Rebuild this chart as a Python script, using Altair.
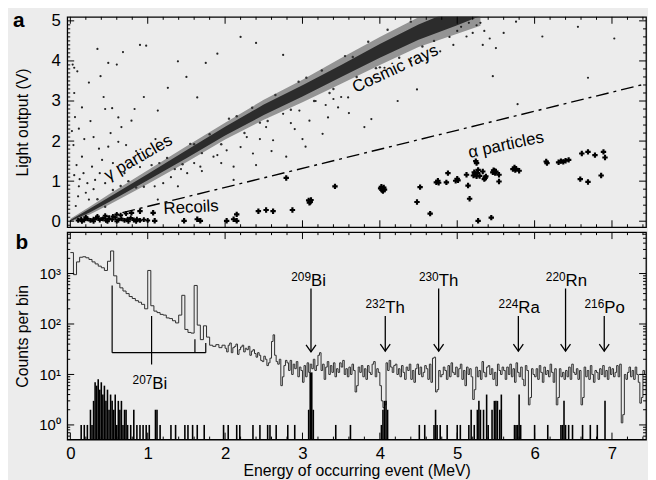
import altair as alt
import pandas as pd

W, HA, HB = 586, 213, 210
X_DOMAIN = [-0.04, 7.44]
YA_DOMAIN = [-0.15, 5.1]
YB_DOMAIN = [0.513, 6600]
FONT = "Liberation Sans"

# ---------------- panel a : light output vs energy ----------------
band_x        = [0.0, 0.25, 0.5, 1.0, 1.5, 2.0, 2.5, 3.0, 3.5, 4.0, 4.5, 5.0, 5.3]
band_core_lo  = [0.0, 0.22, 0.48, 1.02, 1.57, 2.14, 2.65, 3.11, 3.60, 4.08, 4.53, 4.89, 5.12]
band_core_hi  = [0.03, 0.31, 0.60, 1.18, 1.77, 2.36, 2.91, 3.39, 3.90, 4.42, 4.91, 5.31, 5.58]
band_outer_lo = [-0.02, 0.17, 0.41, 0.93, 1.47, 2.04, 2.53, 2.97, 3.43, 3.90, 4.35, 4.68, 4.88]
band_outer_hi = [0.06, 0.36, 0.67, 1.27, 1.87, 2.46, 3.03, 3.53, 4.07, 4.60, 5.09, 5.52, 5.82]

gamma_above = [(0.90, 4.40), (0.98, 4.38), (0.68, 4.22), (1.90, 4.18), (2.75, 4.15), (1.39, 3.99),
               (0.49, 3.95), (0.60, 3.91), (0.03, 3.91), (0.05, 3.83), (0.09, 3.74), (0.39, 3.62),
               (0.24, 3.46), (1.26, 3.33), (1.64, 3.09), (0.45, 2.80), (0.54, 2.82), (0.83, 2.80),
               (0.15, 2.84), (0.62, 2.59), (0.66, 2.35), (0.79, 2.51), (1.13, 2.76), (0.11, 2.31),
               (0.37, 1.81), (0.49, 1.86), (0.62, 1.98), (0.15, 1.61), (0.28, 1.36), (0.41, 1.53),
               (0.11, 0.87), (0.20, 0.71), (0.24, 0.54), (0.17, 1.20), (0.32, 1.03), (0.07, 0.38),
               (0.05, 3.20), (0.06, 2.60), (0.04, 1.90), (0.08, 1.40), (0.12, 1.05), (0.30, 2.10),
               (0.52, 2.20), (0.72, 1.90), (0.95, 3.10), (1.50, 3.60), (2.20, 4.60), (0.35, 4.30),
               (1.00, 1.60), (0.90, 1.35), (0.70, 1.20), (0.45, 0.95), (0.22, 0.95), (0.30, 0.80),
               (0.38, 1.20), (0.55, 1.45), (0.18, 2.05), (0.26, 2.50), (0.85, 1.75), (1.10, 2.05),
               (0.05, 1.15), (0.10, 0.62), (0.02, 2.25), (0.43, 3.10), (1.75, 3.95), (2.40, 4.45)]
gamma_below = [(1.51, 1.20), (1.68, 1.36), (1.85, 1.61), (2.11, 1.36), (2.02, 1.77), (2.28, 2.10),
               (2.36, 1.69), (2.53, 2.35), (2.62, 2.02), (2.75, 2.68), (2.79, 1.61), (2.96, 2.76),
               (3.09, 2.51), (3.17, 3.00), (2.11, 1.03), (1.39, 0.87), (1.13, 0.54), (1.43, 1.30),
               (1.60, 1.45), (1.09, 0.87), (3.04, 1.86), (3.26, 2.18), (2.40, 1.40), (2.90, 2.30),
               (3.30, 2.90), (3.50, 3.10), (3.60, 2.70), (2.20, 1.85), (1.95, 1.45), (2.60, 1.75),
               (3.00, 2.05), (4.48, 3.29), (3.89, 3.50), (4.06, 3.83), (3.89, 2.55), (3.46, 2.84),
               (3.59, 3.09), (3.33, 2.59), (3.80, 2.35), (6.69, 3.58), (5.46, 3.62), (5.78, 2.92),
               (4.23, 3.00), (4.78, 4.24), (4.40, 3.99), (4.61, 4.03), (4.95, 4.40), (1.20, 0.95),
               (1.70, 1.25), (2.45, 2.05), (2.85, 2.45), (3.40, 3.05), (1.30, 1.10), (1.90, 1.65)]
gamma_cosmic = [(5.76, 4.98), (6.10, 4.61), (6.56, 4.85), (7.03, 4.56), (5.42, 4.56), (5.33, 4.40),
                (5.50, 4.32), (5.12, 4.61), (5.25, 4.89), (5.00, 4.75), (5.15, 4.95), (5.60, 4.70),
                (5.05, 4.85), (5.20, 4.70), (5.30, 4.95), (4.90, 4.60), (5.35, 4.75)]
band_fuzz = [(0.55, 0.78), (0.75, 1.00), (0.95, 0.86), (1.15, 1.45), (1.25, 1.58), (1.35, 1.30),
             (1.55, 1.93), (1.70, 1.70), (1.80, 2.17), (1.95, 1.92), (2.05, 2.56), (2.25, 2.20),
             (2.35, 2.83), (2.55, 2.50), (2.65, 3.15), (2.85, 2.78), (2.95, 3.48), (3.15, 3.00),
             (3.25, 3.76), (3.40, 3.30), (3.55, 4.12), (3.70, 3.60), (3.85, 4.48), (3.95, 3.82),
             (4.10, 4.78), (4.25, 4.08), (4.40, 4.98), (4.55, 4.36), (4.70, 4.50), (0.35, 0.55),
             (0.45, 0.36), (1.05, 1.40), (1.45, 1.42), (2.15, 2.62), (2.45, 2.46), (3.05, 3.58),
             (3.35, 3.20), (3.65, 4.10), (4.00, 3.84), (0.65, 0.88), (0.85, 0.84), (1.60, 1.92)]

alpha_pts = [(3.42, 0.87), (4.01, 0.82), (4.03, 0.78), (4.05, 0.84), (4.04, 0.75), (4.02, 0.86),
             (4.06, 0.79), (4.52, 0.85), (4.48, 0.48), (4.65, 0.19), (4.73, 0.97), (4.75, 1.01),
             (4.76, 0.96), (4.86, 0.97), (4.88, 1.20), (4.98, 1.01), (5.00, 1.06), (5.01, 1.02),
             (5.12, 1.16), (5.14, 0.89), (5.16, 0.56), (5.25, 1.45), (5.24, 1.50), (5.27, 1.28),
             (5.21, 1.14), (5.23, 1.18), (5.25, 1.12), (5.22, 1.22), (5.26, 1.20), (5.29, 1.13),
             (5.37, 1.12), (5.36, 1.08), (5.33, 1.24), (5.35, 1.05), (5.46, 1.22), (5.48, 1.26),
             (5.50, 1.24), (5.49, 1.20), (5.47, 1.27), (5.54, 1.16), (5.54, 0.99), (5.72, 1.30),
             (5.74, 1.34), (5.76, 1.31), (5.75, 1.28), (5.80, 1.26), (6.16, 1.45), (6.15, 1.49),
             (6.31, 1.47), (6.34, 1.50), (6.37, 1.48), (6.40, 1.51), (6.44, 1.53), (6.61, 1.69),
             (6.69, 1.73), (6.78, 1.65), (6.89, 1.73), (6.91, 1.59), (6.86, 1.14), (6.59, 1.05),
             (6.69, 0.98), (5.27, 0.01), (5.44, 0.09), (3.08, 0.52), (3.10, 0.48), (3.11, 0.53),
             (3.09, 0.46), (2.79, 1.08), (2.87, 0.28), (2.62, 0.25), (2.53, 0.28), (2.43, 0.25),
             (2.15, 0.17), (2.11, 0.05), (2.02, 0.01), (2.15, 0.01), (1.68, 0.01), (1.64, 0.05),
             (1.47, 0.01), (1.09, 0.01), (1.07, 0.21), (0.90, 0.25), (0.79, 0.21)]

recoil_pts = [(0.10, 0.02), (0.14, 0.05), (0.18, 0.03), (0.22, 0.06), (0.26, 0.02), (0.30, 0.05),
              (0.34, 0.08), (0.38, 0.03), (0.42, 0.06), (0.46, 0.02), (0.50, 0.07), (0.54, 0.04),
              (0.58, 0.09), (0.62, 0.03), (0.66, 0.06), (0.70, 0.02), (0.74, 0.05), (0.78, 0.08),
              (0.82, 0.03), (0.86, 0.05), (0.90, 0.02), (0.95, 0.04), (1.00, 0.02), (0.20, 0.10),
              (0.35, 0.12), (0.45, 0.14), (0.55, 0.12), (0.65, 0.15), (0.48, 0.00), (0.60, 0.00),
              (0.30, 0.00), (0.75, 0.00), (0.15, 0.00), (0.85, 0.00), (0.72, 0.19), (0.60, 0.17)]

cut_x = [0.35, 7.44]
cut_y = [0.06, 3.43]

ann_a = [("\u03b3 particles", 0.88, 1.58, 330), ("Cosmic rays", 4.20, 3.80, 335),
         ("Recoils", 1.56, 0.34, 357), ("\u03b1 particles", 5.63, 1.90, 348)]

# ---------------- panel b : spectrum ----------------
# 0.00 - 2.00 MeV in 0.04 MeV bins
spec_low = [2600, 950, 1700, 2100, 2150, 2050, 1900, 1700, 1550, 1400,
            1300, 1150, 1750, 2800, 900, 640, 520, 450, 400, 350,
            320, 290, 270, 245, 200, 1150, 230, 180, 168, 155,
            150, 132, 128, 116, 105, 150, 370, 78, 68, 66,
            580, 95, 49, 92, 55, 38, 36, 39, 34, 38]
# 2.00 - 7.44 MeV in 0.02 MeV bins
spec_high = [33, 28, 38, 42, 27, 34, 36, 40, 25, 31, 35, 38, 28, 33, 31, 36, 24, 29, 31, 26,
             22, 27, 24, 19, 18, 23, 20, 15, 17, 21, 45, 61, 24, 18, 16, 20, 6, 9, 15, 19,
             17, 12, 19, 10, 16, 13, 18, 9, 14, 12, 7, 15, 9, 17, 11, 16, 13, 20, 12, 15,
             24, 27, 12, 16, 8, 14, 18, 10, 15, 11, 17, 9, 13, 11, 17, 14, 19, 10, 13, 9,
             14, 10, 16, 12, 4.5, 6, 14, 11, 15, 9, 13, 8, 15, 11, 10, 16, 18, 9, 13, 11,
             6, 3, 2.2, 2.5, 17, 12, 19, 14, 11, 15, 16, 10, 13, 9, 15, 11, 8, 14, 12, 16,
             8, 12, 7, 13, 16, 10, 14, 9, 11, 15, 13, 8, 16, 7, 21, 22, 4.5, 5, 12, 9,
             10, 14, 12, 8, 15, 9, 17, 11, 10, 14, 9, 13, 16, 8, 12, 6, 14, 10, 13, 9,
             3.2, 5, 14, 9, 12, 8, 18, 11, 9, 14, 15, 10, 13, 8, 11, 6, 16, 12, 10, 14,
             12, 8, 14, 10, 16, 9, 13, 7, 17, 11, 9, 14, 8, 6, 15, 12, 2.5, 3.5, 13, 10,
             9, 13, 8, 15, 11, 7, 14, 10, 12, 9, 16, 11, 7, 13, 2.5, 3.5, 13, 9, 11, 8,
             12, 9, 14, 8, 16, 11, 10, 13, 8, 12, 2.5, 3.5, 14, 9, 12, 8, 15, 10, 7, 12,
             11, 8, 13, 10, 15, 9, 12, 8, 14, 10, 13, 9, 11, 15, 9, 16, 1.1, 1.6, 10, 8,
             11, 14, 9, 12, 8, 14, 10, 7, 2.7, 3.5, 12, 10]

alpha_low_e = [0.14, 0.18, 0.22, 0.26, 0.28, 0.30, 0.32, 0.34, 0.36, 0.38,
               0.40, 0.42, 0.44, 0.46, 0.48, 0.50, 0.52, 0.54, 0.56, 0.58,
               0.60, 0.62, 0.64, 0.66, 0.68, 0.70, 0.72, 0.74, 0.78, 0.82,
               0.86, 0.90, 0.94, 0.98, 1.02, 1.10, 1.12, 1.16]
alpha_low_n = [1, 1, 1, 2, 1, 3, 7, 6, 8, 5,
               7, 4, 6, 3, 5, 2, 4, 3, 2, 4,
               1, 3, 2, 3, 1, 2, 2, 1, 1, 2,
               1, 1, 1, 1, 1, 2, 2, 1]
alpha_mid_e = [1.30, 1.36, 1.48, 1.52, 1.58, 1.64, 1.73, 1.98, 2.04, 2.15, 2.19, 2.36, 2.45,
               2.55, 2.58, 2.66, 2.81, 2.90, 3.08, 3.10, 3.12, 3.14, 3.43, 3.62]
alpha_mid_n = [1, 1, 1, 1, 1, 1, 1, 1, 1, 1, 1, 1, 1,
               1, 1, 1, 1, 1, 2, 11, 11, 2, 1, 1]
alpha_high_e = [4.02, 4.04, 4.06, 4.08, 4.10, 4.51, 4.58, 4.70, 4.72, 4.74,
                4.78, 4.87, 5.00, 5.04, 5.15, 5.18, 5.22, 5.26, 5.28, 5.30,
                5.34, 5.38, 5.40, 5.45, 5.48, 5.50, 5.52, 5.55, 5.57,
                5.74, 5.76, 5.78, 5.80, 5.82, 6.00, 6.17, 6.34, 6.36, 6.38,
                6.40, 6.44, 6.49, 6.62, 6.72, 6.81, 6.91]
alpha_high_n = [1, 2, 3, 3, 2, 1, 1, 1, 2, 1,
                1, 1, 1, 1, 1, 2, 1, 2, 3, 2,
                2, 4, 1, 2, 3, 3, 3, 2, 4,
                1, 1, 1, 4, 1, 1, 1, 1, 1, 3,
                1, 1, 1, 1, 1, 1, 3]

nuc_num = ["209", "232", "230", "224", "220", "216"]
nuc_el = ["Bi", "Th", "Th", "Ra", "Rn", "Po"]
nuc_x = [3.11, 4.07, 4.76, 5.79, 6.40, 6.90]
nuc_label_y = [565, 164, 575, 164, 575, 164]
arrow_top = [505, 144, 505, 144, 505, 144]
arrow_tip = [28, 29, 29, 29, 29, 29]

bi207_x = [0.54, 1.05, 1.61, 1.75]
bi207_top = [580, 144, 50, 42]
bi207_bot = [27, 15.7, 27, 27]
bi207_bar = (0.54, 1.75, 27)
bi207_label = ("207", "Bi", 1.06, 5.1)

# tick positions
x_major = [0, 1, 2, 3, 4, 5, 6, 7]
x_minor = [round(0.2 * i, 1) for i in range(0, 38) if i % 5 != 0]
ya_major = [0, 1, 2, 3, 4, 5]
ya_minor_l = [round(0.1 * i, 1) for i in range(-1, 51) if i % 10 != 0]
ya_minor_r = [round(0.2 * i, 1) for i in range(0, 26) if i % 5 != 0]
yb_major = [1, 10, 100, 1000]
yb_minor = [m * 10 ** k for k in range(-1, 4) for m in range(2, 10)
            if YB_DOMAIN[0] <= m * 10 ** k <= YB_DOMAIN[1]]

# ---------------- scales & axes ----------------
xs = alt.Scale(domain=X_DOMAIN, nice=False, zero=False)
yas = alt.Scale(domain=YA_DOMAIN, nice=False, zero=False)
ybs = alt.Scale(type="log", domain=YB_DOMAIN, nice=False)

ax_ya = alt.Axis(values=ya_major, ticks=False, domain=False, grid=False, labelFontSize=17,
                 labelPadding=7, labelColor="black", title="Light output (V)", titleFontSize=16,
                 titleFontWeight="normal", titleColor="black", titlePadding=21)
ax_xb = alt.Axis(values=x_major, ticks=False, domain=False, grid=False, labelFontSize=17,
                 labelPadding=6, labelFlush=False, labelColor="black",
                 title="Energy of occurring event (MeV)", titleFontSize=16,
                 titleFontWeight="normal", titleColor="black", titlePadding=1)
ax_yb = alt.Axis(values=yb_major, ticks=False, domain=False, grid=False, labelFontSize=15,
                 labelPadding=7, labelColor="black",
                 labelExpr="datum.value == 1 ? '10\u2070' : datum.value == 10 ? '10\u00b9' : datum.value == 100 ? '10\u00b2' : '10\u00b3'",
                 title="Counts per bin", titleFontSize=16, titleFontWeight="normal",
                 titleColor="black", titlePadding=9)


def XA(f):
    return alt.X(f, type="quantitative", scale=xs, axis=None)


def YA(f):
    return alt.Y(f, type="quantitative", scale=yas, axis=ax_ya)


def XB(f):
    return alt.X(f, type="quantitative", scale=xs, axis=ax_xb)


def YB(f):
    return alt.Y(f, type="quantitative", scale=ybs, axis=ax_yb)


def pts_df(pts):
    return pd.DataFrame({"x": [p[0] for p in pts], "y": [p[1] for p in pts]})


def yticks(vals, Yf, x0, x1):
    return alt.Chart(pd.DataFrame({"v": vals})).mark_rule(color="black", strokeWidth=1).encode(
        y=Yf("v"), x=alt.value(x0), x2=alt.value(x1))


def xticks(vals, Xf, y0, y1):
    return alt.Chart(pd.DataFrame({"v": vals})).mark_rule(color="black", strokeWidth=1).encode(
        x=Xf("v"), y=alt.value(y0), y2=alt.value(y1))


# ---------------- panel a layers ----------------
band_df = pd.DataFrame({"x": band_x, "olo": band_outer_lo, "ohi": band_outer_hi,
                        "clo": band_core_lo, "chi": band_core_hi})
outer = alt.Chart(band_df).mark_area(color="#3c3c3c", opacity=0.5, clip=True).encode(
    x=XA("x"), y=YA("olo"), y2=alt.Y2("ohi"))
core = alt.Chart(band_df).mark_area(color="#262626", opacity=0.95, clip=True).encode(
    x=XA("x"), y=YA("clo"), y2=alt.Y2("chi"))
gam = alt.Chart(pts_df(gamma_above + gamma_below + gamma_cosmic)).mark_circle(
    size=5, color="#222222", opacity=1, clip=True).encode(x=XA("x"), y=YA("y"))
fuzz = alt.Chart(pts_df(band_fuzz)).mark_circle(
    size=6, color="#333333", opacity=1, clip=True).encode(x=XA("x"), y=YA("y"))
cut = alt.Chart(pd.DataFrame({"x": cut_x, "y": cut_y})).mark_line(
    color="black", strokeWidth=1.4, strokeDash=[13, 5, 3, 5], clip=True).encode(x=XA("x"), y=YA("y"))
alpha = alt.Chart(pts_df(alpha_pts)).mark_point(shape="cross", filled=True, size=30,
                                                 color="black", opacity=1).encode(x=XA("x"), y=YA("y"))
recoil = alt.Chart(pts_df(recoil_pts)).mark_point(shape="cross", filled=True, size=24,
                                                   color="black", opacity=1, clip=True).encode(x=XA("x"), y=YA("y"))
ann_layers = []
for t, ax_, ay_, ang in ann_a:
    ann_layers.append(
        alt.Chart(pd.DataFrame({"t": [t], "x": [ax_], "y": [ay_]})).mark_text(
            fontSize=17, angle=ang, align="center", baseline="middle", color="black").encode(
            x=XA("x"), y=YA("y"), text="t:N"))
lab_a = alt.Chart(pd.DataFrame({"t": ["a"]})).mark_text(
    fontSize=21, fontWeight="bold", align="center", baseline="middle", color="black").encode(
    text="t:N", x=alt.value(-49), y=alt.value(4))

ticks_a = [
    yticks(ya_major, YA, 0, 7), yticks(ya_minor_l, YA, 0, 3),
    yticks(ya_major, YA, W - 7, W), yticks(ya_minor_r, YA, W - 3, W),
    xticks(x_major, XA, 0, 7), xticks(x_minor, XA, 0, 3),
    xticks(x_major, XA, HA - 7, HA), xticks(x_minor, XA, HA - 3, HA),
]

panel_a = alt.layer(outer, core, fuzz, gam, cut, alpha, recoil, *ann_layers, *ticks_a, lab_a).properties(
    width=W, height=HA)

# ---------------- panel b layers ----------------
spec_counts = spec_low + spec_high
spec_edges = [round(0.04 * i, 2) for i in range(len(spec_low))] + \
             [round(2.0 + 0.02 * j, 2) for j in range(len(spec_high))]
spec = alt.Chart(pd.DataFrame({"e": spec_edges, "n": spec_counts})).mark_line(
    interpolate="step-after", color="#2e2e2e", strokeWidth=1.0, clip=True).encode(
    x=XB("e"), y=YB("n"))
ah_df = pd.DataFrame({"e": alpha_low_e + alpha_mid_e + alpha_high_e,
                      "n": alpha_low_n + alpha_mid_n + alpha_high_n})
bars = alt.Chart(ah_df).mark_rule(color="black", strokeWidth=1.6).encode(
    x=XB("e"), y=YB("n"), y2=alt.value(HB))
arr_df = pd.DataFrame({"x": nuc_x, "top": arrow_top, "tip": arrow_tip,
                       "ly": nuc_label_y, "num": nuc_num, "el": nuc_el})
arr_line = alt.Chart(arr_df).mark_rule(color="black", strokeWidth=1.3).encode(
    x=XB("x"), y=YB("top"), y2=alt.Y2("tip"))
arr_head = alt.Chart(arr_df).mark_point(shape="M -1 -1.4 L 0 0 L 1 -1.4", filled=False, size=100,
                                        strokeWidth=1.3, color="black", opacity=1).encode(
    x=XB("x"), y=YB("tip"))
el_txt = alt.Chart(arr_df).mark_text(align="left", baseline="alphabetic", fontSize=17,
                                      color="black").encode(x=XB("x"), y=YB("ly"), text="el:N")
num_txt = alt.Chart(arr_df).mark_text(align="right", baseline="alphabetic", fontSize=12, dy=-5,
                                       color="black").encode(x=XB("x"), y=YB("ly"), text="num:N")
br_df = pd.DataFrame({"x": bi207_x, "top": bi207_top, "bot": bi207_bot})
br_v = alt.Chart(br_df).mark_rule(color="black", strokeWidth=1.2).encode(
    x=XB("x"), y=YB("top"), y2=alt.Y2("bot"))
br_h = alt.Chart(pd.DataFrame({"x0": [bi207_bar[0]], "x1": [bi207_bar[1]], "y": [bi207_bar[2]]})).mark_rule(
    color="black", strokeWidth=1.2).encode(x=XB("x0"), x2=alt.X2("x1"), y=YB("y"))
bl_df = pd.DataFrame({"num": [bi207_label[0]], "el": [bi207_label[1]],
                      "x": [bi207_label[2]], "y": [bi207_label[3]]})
bl_el = alt.Chart(bl_df).mark_text(align="left", baseline="alphabetic", fontSize=17,
                                    color="black").encode(x=XB("x"), y=YB("y"), text="el:N")
bl_num = alt.Chart(bl_df).mark_text(align="right", baseline="alphabetic", fontSize=12, dy=-5,
                                     color="black").encode(x=XB("x"), y=YB("y"), text="num:N")
lab_b = alt.Chart(pd.DataFrame({"t": ["b"]})).mark_text(
    fontSize=21, fontWeight="bold", align="center", baseline="middle", color="black").encode(
    text="t:N", x=alt.value(-46), y=alt.value(11))

ticks_b = [
    yticks(yb_major, YB, 0, 7), yticks(yb_minor, YB, 0, 3),
    yticks(yb_major, YB, W - 7, W), yticks(yb_minor, YB, W - 3, W),
    xticks(x_major, XB, 0, 7), xticks(x_minor, XB, 0, 3),
    xticks(x_major, XB, HB - 7, HB), xticks(x_minor, XB, HB - 3, HB),
]

panel_b = alt.layer(spec, bars, br_v, br_h, bl_el, bl_num, arr_line, arr_head, el_txt, num_txt,
                    *ticks_b, lab_b).properties(width=W, height=HB)

chart = alt.vconcat(panel_a, panel_b, spacing=0).properties(
    padding={"left": 4, "top": -2, "right": 0, "bottom": 0},
    background="#ececec",
).configure_view(stroke="black", strokeWidth=1.3).configure_axis(
    labelFont=FONT, titleFont=FONT).configure_text(font=FONT)

chart.save("out.html", embed_options={"renderer": "svg", "actions": False})
